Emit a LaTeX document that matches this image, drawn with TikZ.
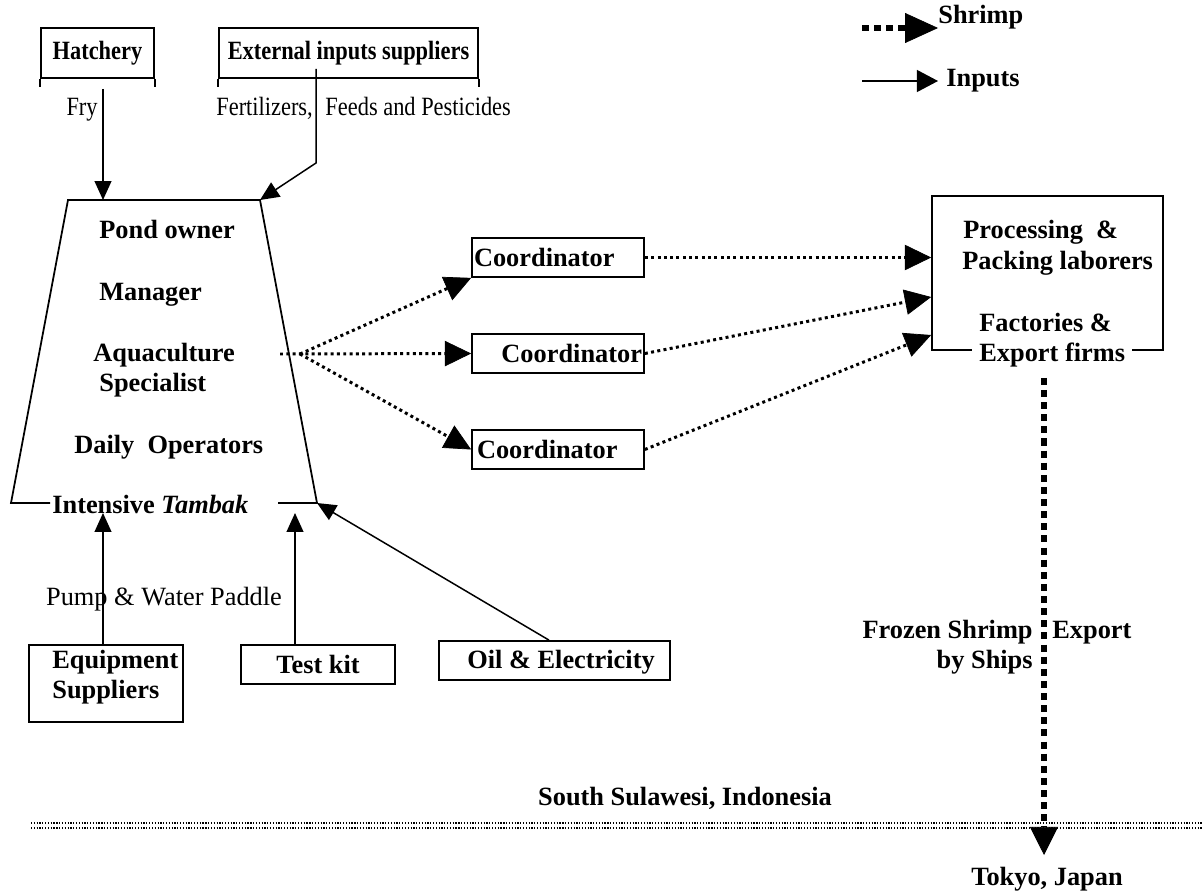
\documentclass[tikz,border=0pt]{standalone}
\usepackage{fontspec}
\setmainfont{Liberation Serif}
\usetikzlibrary{arrows.meta,calc}

\tikzset{
  txt/.style={inner sep=0pt, font=\fontsize{15}{17}\selectfont},
  btxt/.style={inner sep=0pt, font=\bfseries\fontsize{15}{17}\selectfont},
  frame/.style={draw, line width=1pt, inner sep=0pt},
  cbox/.style={frame, btxt, minimum width=3.44cm, minimum height=0.78cm,
               inner xsep=0.04cm, text width=3.36cm},
  feed/.style={line width=0.85pt, -{Triangle[length=10.8pt,width=9.6pt]}},
  flow/.style={line width=1.7pt, dash pattern=on 1.7pt off 1.9pt,
               -{Triangle[length=15pt,width=14.5pt,line width=0.4pt]}},
  bigflow/.style={line width=3.8pt, dash pattern=on 4pt off 2.9pt,
               -{Triangle[length=16pt,width=16pt,line width=0.4pt]}},
  border/.style={line width=0.7pt, dash pattern=on 0.7pt off 0.9pt},
}

\begin{document}
\begin{tikzpicture}[x=0.02cm,y=-0.02cm]
\useasboundingbox (0,0) rectangle (1202,892);

% ---- legend ----
\coordinate (lg1) at (862,28);
\coordinate (lg2) at (938,28);
\draw[bigflow, -{Triangle[length=18.7pt,width=17pt,line width=0.4pt]}] (lg1) -- (lg2);
\node[btxt, anchor=mid west] (lgshrimp) at (938,19) {Shrimp};
\coordinate (lg3) at (862,81);
\coordinate (lg4) at (938,81);
\draw[line width=0.85pt, -{Triangle[length=12pt,width=12.5pt]}] (lg3) -- (lg4);
\node[btxt, anchor=mid west] (lginputs) at (946,82) {Inputs};

% ---- upstream suppliers ----
\node[frame, btxt, minimum width=2.26cm, minimum height=1cm] (hatch) at (97.5,53)
  {\scalebox{0.85}[1]{Hatchery}};
\draw[line width=1pt] (hatch.south west) -- ++(0,8) (hatch.south east) -- ++(0,8);
\node[frame, btxt, minimum width=5.18cm, minimum height=1cm] (ext) at (348.5,53)
  {\scalebox{0.85}[1]{External inputs suppliers}};
\draw[line width=1pt] (ext.south west) -- ++(0,8) (ext.south east) -- ++(0,8);

\node[txt, anchor=mid east] (fry) at (98,111) {\scalebox{0.85}[1]{Fry}};
\node[txt, anchor=mid west] (fert) at (216,111)
  {\scalebox{0.85}[1]{Fertilizers,\hspace{8.5pt}Feeds and Pesticides}};

% ---- intensive tambak (pond) ----
\coordinate (tl) at (68,200);
\coordinate (tr) at (260,200);
\coordinate (bl) at (11,503);
\coordinate (br) at (317,503);
\draw[line width=1pt] (50,503) -- (bl) -- (tl) -- (tr) -- (br) -- (278,503);

\node[btxt, anchor=mid west] (owner)   at (99,234) {Pond owner};
\node[btxt, anchor=mid west] (manager) at (99,296) {Manager};
\node[btxt, anchor=mid west] (aqua)    at (93,357) {Aquaculture};
\node[btxt, anchor=mid west] (spec)    at (99,387) {Specialist};
\node[btxt, anchor=mid west] (daily)   at (74,449) {Daily\ \ Operators};
\node[btxt, anchor=mid west] (tambak)  at (52,509) {Intensive \textit{Tambak}};

\coordinate (fryto) at (103,200);
\draw[feed] ($(hatch.south -| fryto)+(0,10)$) -- (fryto);
\coordinate (extdrop) at (316,163);
\draw[feed] ($(ext.south -| extdrop)+(0,-10)$) -- (extdrop) -- (tr);

% ---- coordinators ----
\node[cbox, align=left]  (c1) at (558,257.5) {Coordinator};
\node[cbox, align=right] (c2) at (558,353.5) {Coordinator};
\node[cbox, align=left]  (c3) at (558,449.5) {\hspace*{1.7pt}Coordinator};

\coordinate (pondout) at (280,354);
\coordinate (fan) at (300,354);
\draw[flow] (pondout) -- (c2.west);
\draw[flow] (fan) -- (c1.south west);
\draw[flow] (fan) -- (c3.west);

% ---- processing and export ----
\node[frame, minimum width=4.62cm, minimum height=3.08cm] (proc) at (1047.5,273) {};
\node[btxt, anchor=mid west] (proc1) at (963,234) {Processing\ \ \&};
\node[btxt, anchor=mid west] (proc2) at (962,265) {Packing laborers};
\node[btxt, anchor=mid west] (proc3) at (979,327) {Factories \&};
\node[btxt, anchor=mid west, fill=white, inner xsep=0.14cm] (proc4) at (972,357) {Export firms};

\draw[flow] (c1.east) -- (c1.east -| proc.west);
\draw[flow] (c2.east) -- ($(proc.west)+(0,24)$);
\draw[flow] (c3.east) -- ($(proc.west)+(0,62)$);

\coordinate (shipto) at (1044,855);
\draw[bigflow] ($(proc.south)+(-3.5,27)$) -- (shipto);

\node[btxt, anchor=mid east] (frozen)    at (1033,634) {Frozen Shrimp};
\node[btxt, anchor=mid west] (exportlbl) at (1052,634) {Export};
\node[btxt, anchor=mid east] (ships)     at (1033,664) {by Ships};

% ---- border between the two countries ----
\draw[border] (31,823) -- (1202,823);
\draw[border] (31,828) -- (1202,828);
\node[btxt, anchor=mid] (sulawesi) at (685,801) {South Sulawesi, Indonesia};
\node[btxt] (tokyo) at (1047,879) {Tokyo, Japan};

% ---- other input suppliers ----
\node[frame, minimum width=3.08cm, minimum height=1.54cm] (equip) at (106,683.5) {};
\node[btxt, anchor=mid west] (equip1) at (52,664) {Equipment};
\node[btxt, anchor=mid west] (equip2) at (52,694) {Suppliers};
\node[frame, btxt, minimum width=3.08cm, minimum height=0.78cm] (test) at (318,664.5) {Test kit};
\node[frame, minimum width=4.62cm, minimum height=0.78cm] (oil) at (554.5,660.5) {};
\node[btxt, anchor=mid] (oiltxt) at (561,664) {Oil \& Electricity};

\node[txt, anchor=mid] (pump) at (164,601) {Pump \& Water Paddle};

\coordinate (in1) at (103,513);
\coordinate (in2) at (295,513);
\draw[feed] (equip.north -| in1) -- (in1);
\draw[feed] (test.north -| in2) -- (in2);
\draw[feed] ($(oil.north)+(-5.5,0)$) -- (br);

\end{tikzpicture}
\end{document}
